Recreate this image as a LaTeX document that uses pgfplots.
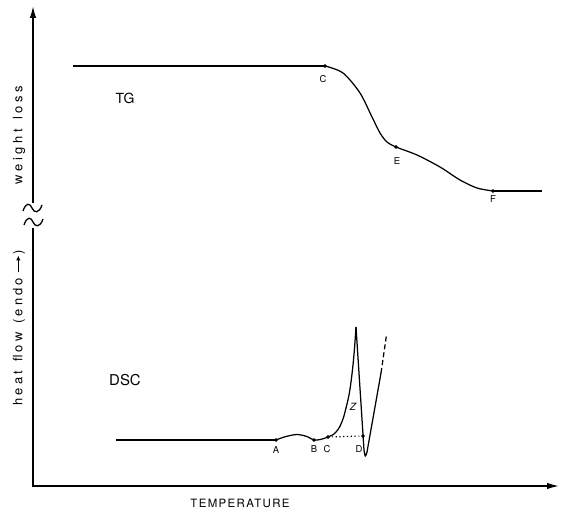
\documentclass[border=0pt]{standalone}
\usepackage{pgfplots}
\pgfplotsset{compat=1.18}
\usepackage{fontspec}
\setmainfont{TeX Gyre Heros}
\usetikzlibrary{arrows.meta}
\begin{document}
\begin{tikzpicture}
\begin{axis}[
  scale only axis, width=561bp, height=515bp,
  xmin=0, xmax=561, ymin=0, ymax=515, y dir=reverse,
  axis lines=none, ticks=none, clip=false,
]
\path[draw=none] (axis cs:0,0) rectangle (axis cs:561,515);
% axes
\addplot[line width=1.6pt, -{Latex[length=12pt,width=6.5pt]}] coordinates {(33,203) (33,6)};
\addplot[line width=1.6pt, -{Latex[length=12pt,width=6.5pt]}] coordinates {(33,228) (33,486) (559,486)};
% break marks
\draw[line width=1.3pt] (axis cs:23,211) .. controls (axis cs:26,202) and (axis cs:30,203) .. (axis cs:32,208) .. controls (axis cs:34,213) and (axis cs:39,214) .. (axis cs:42,205);
\draw[line width=1.3pt] (axis cs:24,225) .. controls (axis cs:27,216) and (axis cs:31,217) .. (axis cs:33,222) .. controls (axis cs:35,227) and (axis cs:40,228) .. (axis cs:43,219);
% TG curve
\addplot[line width=1.25pt] coordinates {(73,66) (325,66)};
\addplot[line width=1.25pt, smooth, tension=0.5] coordinates {(325,66) (343,73) (360,93) (372,117) (380,133) (387,142) (396,147) (417,155) (440,167) (460,180) (477,188) (493,191)};
\addplot[line width=1.25pt] coordinates {(493,191) (542,191)};
\addplot[only marks, mark=*, mark size=1.7pt] coordinates {(325,66) (396,147) (493,191)};
% DSC curve
\addplot[line width=1.25pt] coordinates {(116,440) (276,440)};
\addplot[line width=1.25pt, smooth, tension=0.6] coordinates {(276,440) (286,436.5) (298,434.5) (308,437) (314,440) (321,439.3) (328,437)};
\addplot[line width=1.25pt, smooth, tension=0.5] coordinates {(328,437) (334,434) (339,428) (343,419) (346,408) (349,395) (351,382) (353,365) (354.6,347) (356,327)};
\addplot[line width=1.25pt] coordinates {(356,327) (364,450)};
\addplot[line width=1.25pt, smooth, tension=0.6] coordinates {(364,450) (365.3,456) (367,452)};
\addplot[line width=1.25pt] coordinates {(367,452) (381,373)};
\addplot[line width=1.25pt, dash pattern=on 5pt off 3pt] coordinates {(381,373) (386.5,335)};
\addplot[line width=1.2pt, dash pattern=on 1.2pt off 2.6pt] coordinates {(328,437) (363,436)};
\addplot[only marks, mark=*, mark size=1.7pt] coordinates {(276,440) (314,440) (328,437) (363,436)};
% labels
\node[font=\fontsize{14}{14}\selectfont] at (axis cs:125,98) {TG};
\node[font=\fontsize{15}{15}\selectfont] at (axis cs:125,380) {DSC};
\node[font=\fontsize{9.5}{10}\selectfont] at (axis cs:323,79) {C};
\node[font=\fontsize{9.5}{10}\selectfont] at (axis cs:397,161) {E};
\node[font=\fontsize{9.5}{10}\selectfont] at (axis cs:493,199) {F};
\node[font=\fontsize{9.5}{10}\selectfont] at (axis cs:276,450) {A};
\node[font=\fontsize{9.5}{10}\selectfont] at (axis cs:314,449) {B};
\node[font=\fontsize{9.5}{10}\selectfont] at (axis cs:327,449) {C};
\node[font=\fontsize{9.5}{10}\selectfont] at (axis cs:359,449) {D};
\node[font=\fontsize{10}{10}\selectfont\itshape] at (axis cs:353,407) {Z};
\node[font=\fontsize{11.5}{12}\selectfont\addfontfeature{LetterSpace=12}] at (axis cs:240,503) {TEMPERATURE};
\node[rotate=90, font=\fontsize{13}{13}\selectfont\addfontfeature{LetterSpace=28}] at (axis cs:19,135) {weight\hspace{0.7em}loss};
\node[rotate=90, font=\fontsize{13}{13}\selectfont\addfontfeature{LetterSpace=24}] at (axis cs:19,328) {heat\hspace{0.7em}flow\hspace{0.7em}(endo\hspace{0.4em}\tikz[baseline=-0.6ex]\draw[line width=1pt,-{Latex[length=5pt,width=4.5pt]}] (0,0)--(1.3em,0);)};
\end{axis}
\end{tikzpicture}
\end{document}
